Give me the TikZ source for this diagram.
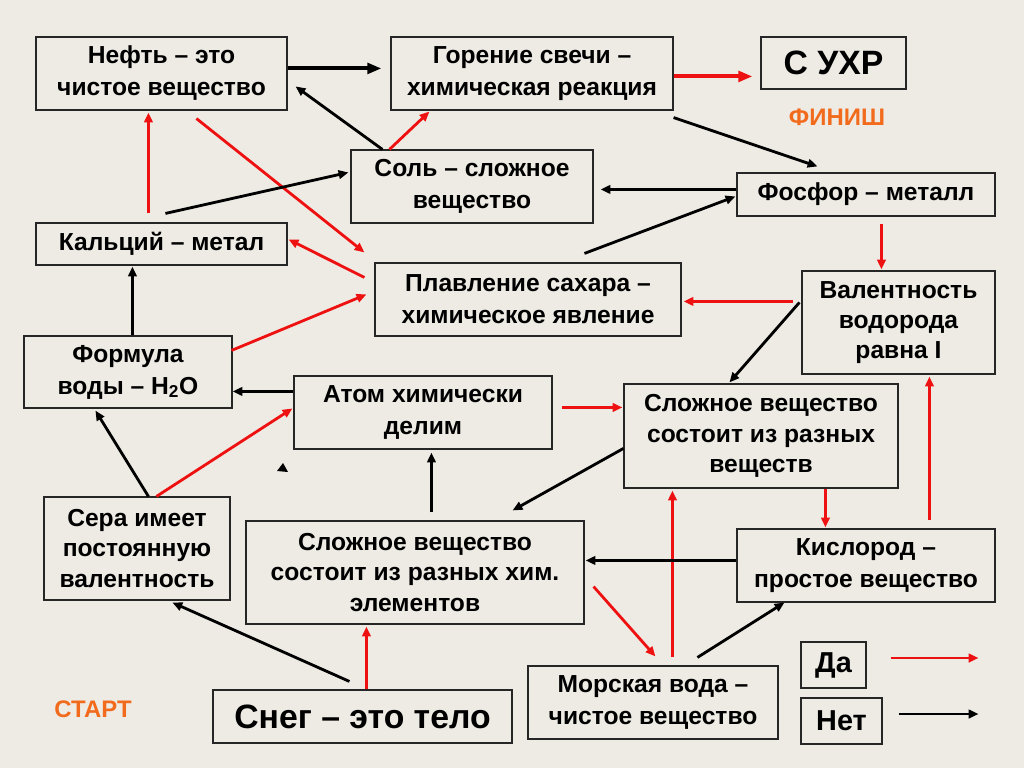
\documentclass[tikz,border=0pt]{standalone}
\usepackage{fontspec}
\setmainfont{Liberation Sans}
\usetikzlibrary{arrows.meta,calc}
\definecolor{bg}{HTML}{EEEBE4}
\definecolor{myred}{HTML}{EE1111}
\definecolor{orng}{HTML}{F26B1D}
\begin{document}
\begin{tikzpicture}[x=0.025cm,y=-0.025cm,
  box/.style={draw=black!85, line width=0.8pt, inner sep=0pt, align=center,
    font=\fontsize{17.5}{22.8}\selectfont\bfseries},
  three/.style={font=\fontsize{17.5}{21.5}\selectfont\bfseries},
  bigbox/.style={box, font=\fontsize{24}{28}\selectfont\bfseries},
  legbox/.style={box, font=\fontsize{20.5}{24}\selectfont\bfseries},
  wh/.style 2 args={minimum width=#1*0.025cm, minimum height=#2*0.025cm},
  yes/.style={draw=myred, line width=2pt, -{Triangle[length=7pt,width=6pt]}},
  no/.style={draw=black, line width=2pt, -{Triangle[length=7pt,width=6pt]}},
  heavy/.style={line width=2.8pt, -{Triangle[length=10pt,width=7.5pt]}},
  label/.style={text=orng, font=\fontsize{17}{20}\selectfont\bfseries},
]
\fill[bg] (0,0) rectangle (1024,768);
\useasboundingbox (0,0) rectangle (1024,768);

% nodes
\node[box, wh={251}{73}] (neft) at (161.5,73.5) {Нефть – это\\чистое вещество};
\node[box, wh={282}{73}] (gor) at (532,73.5) {Горение свечи –\\химическая реакция};
\node[bigbox, wh={145}{52}] (uxr) at (833.5,63) {С УХР};
\node[label] (finish) at (837,117) {ФИНИШ};
\node[box, wh={242}{73}] (sol) at (472,186.5) {Соль – сложное\\вещество};
\node[box, wh={258}{43}] (fosf) at (866,194.5) {Фосфор – металл};
\node[box, wh={251}{42}] (kalc) at (161.5,244) {Кальций – метал};
\node[box, wh={306}{73}] (plav) at (528,299.5) {Плавление сахара –\\химическое явление};
\node[box, three, wh={193}{103}] (val) at (898.5,322.5) {Валентность\\водорода\\равна I};
\node[box, wh={208}{72}] (form) at (128,372) {Формула\\воды – H\textsubscript{2}O};
\node[box, wh={258}{73}] (atom) at (423,412.5) {Атом химически\\делим};
\node[box, three, wh={274}{104}] (slv) at (761,436) {Сложное вещество\\состоит из разных\\веществ};
\node[box, three, wh={186}{103}] (sera) at (137,548.5) {Сера имеет\\постоянную\\валентность};
\node[box, three, wh={338}{103}] (slh) at (415,572.5) {Сложное вещество\\состоит из разных хим.\\элементов};
\node[box, wh={258}{73}] (kisl) at (866,565.5) {Кислород –\\простое вещество};
\node[bigbox, wh={299}{53}] (sneg) at (362.5,716.5) {Снег – это тело};
\node[box, wh={250}{73}] (mor) at (653,702.5) {Морская вода –\\чистое вещество};
\node[legbox, wh={65}{46}] (da) at (833.5,665) {Да};
\node[legbox, wh={81}{46}] (net) at (841.5,721) {Нет};
\node[label] (start) at (93,709) {СТАРТ};

% connectors
\draw[no,heavy] ($(neft.north east)+(0,32)$) -- ($(gor.north west)+(-9,32)$);
\draw[yes,heavy] ($(gor.north east)+(0,40)$) -- ($(uxr.north west)+(-8,40)$);
\draw[no] ($(sol.north west)+(32,0)$) -- ($(neft.north east)+(8,50)$);
\draw[yes] ($(sol.north west)+(39,0)$) -- ($(gor.south west)+(39,1)$);
\draw[yes] ($(neft.south west)+(161,8)$) -- ($(plav.north west)+(-10,-10)$);
\draw[yes] ($(kalc.north west)+(113,-9)$) -- ($(neft.south west)+(113,2)$);
\draw[no] ($(kalc.north west)+(130,-9)$) -- ($(sol.north west)+(-2,23)$);
\draw[no] ($(gor.south east)+(0,7)$) -- ($(fosf.north west)+(81,-6)$);
\draw[no] ($(fosf.north west)+(0,17)$) -- ($(sol.north east)+(7,40)$);
\draw[no] ($(plav.north west)+(210,-9)$) -- ($(fosf.north west)+(-1,24)$);
\draw[yes] ($(fosf.south west)+(145,7)$) -- ($(val.north west)+(80,-1)$);
\draw[yes] ($(plav.north west)+(-10,15)$) -- ($(kalc.north east)+(1,17)$);
\draw[yes] ($(form.north east)+(-1,15)$) -- ($(plav.north west)+(-8,32)$);
\draw[no] ($(form.north west)+(109,0)$) -- ($(kalc.south west)+(97,1)$);
\draw[no] ($(atom.north west)+(0,16)$) -- ($(form.north east)+(0,56)$);
\draw[no] ($(sera.north west)+(105,0)$) -- ($(form.south west)+(72,2)$);
\draw[yes] ($(sera.north west)+(113,0)$) -- ($(atom.north west)+(-1,33)$);
\draw[no] ($(slh.north west)+(186,-8)$) -- ($(atom.south west)+(138,3)$);
\draw[no] ($(val.north west)+(-2,32)$) -- ($(slv.north west)+(106,-1)$);
\draw[yes] ($(val.north west)+(-8,31)$) -- ($(plav.north east)+(2,39)$);
\draw[yes] ($(atom.north east)+(9,32)$) -- ($(slv.north west)+(-1,24)$);
\draw[no] ($(slv.north west)+(0,65)$) -- ($(slh.north east)+(-72,-10)$);
\draw[yes] ($(mor.north west)+(145,-8)$) -- ($(slv.south west)+(49,2)$);
\draw[yes] ($(slv.south west)+(202,0)$) -- ($(kisl.north west)+(89,-1)$);
\draw[yes] ($(kisl.north west)+(193,-8)$) -- ($(val.south west)+(128,2)$);
\draw[no] ($(kisl.north west)+(0,32)$) -- ($(slh.north east)+(1,40)$);
\draw[yes] ($(slh.south east)+(9,-38)$) -- ($(mor.north west)+(128,-9)$);
\draw[no] ($(mor.north west)+(170,-8)$) -- ($(kisl.south west)+(48,0)$);
\draw[no] ($(sneg.north west)+(137,-8)$) -- ($(sera.south west)+(129,2)$);
\draw[yes] ($(sneg.north west)+(154,0)$) -- ($(slh.south west)+(121,2)$);
\draw[yes] ($(da.east)+(24,-7)$) -- ($(da.east)+(112,-7)$);
\draw[no] ($(net.east)+(16,-7)$) -- ($(net.east)+(96,-7)$);

% stray arrowhead
\fill[black] (283,463) -- (277,471) -- (288,472) -- cycle;
\end{tikzpicture}
\end{document}
